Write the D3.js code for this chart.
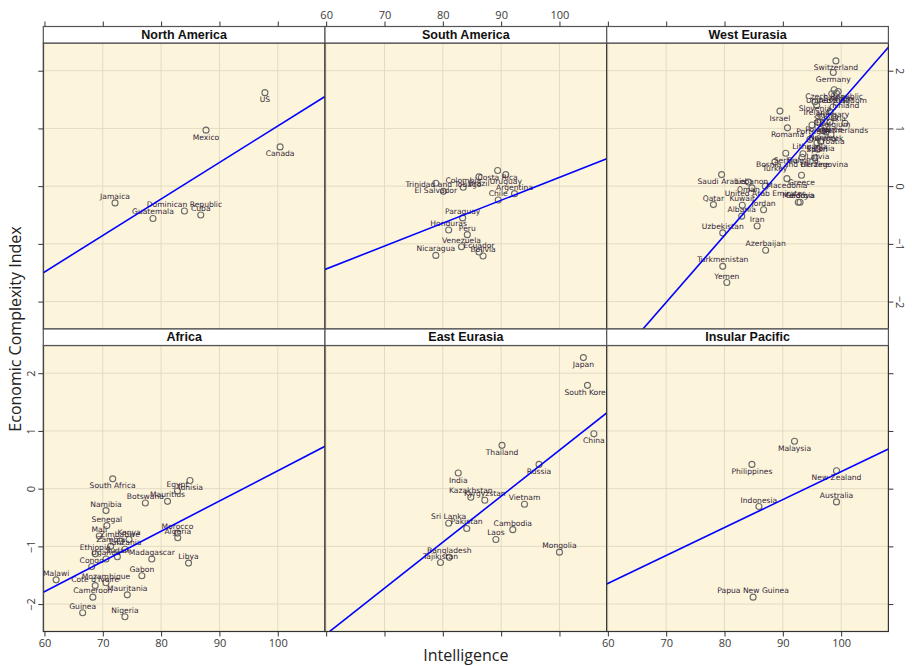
<!DOCTYPE html>
<html>
<head>
<meta charset="utf-8">
<script src="https://cdn.jsdelivr.net/npm/d3@7"></script>
<style>
  body { margin: 0; background: #fff; }
</style>
</head>
<body>
<div id="root"></div>
<script>
// DATA
let regions = ['North America', 'South America', 'West Eurasia', 'Africa', 'East Eurasia', 'Insular Pacific'];
let xTicks = [60, 70, 80, 90, 100];
let yTicks = [-2, -1, 0, 1, 2];

let naCountries = ['US', 'Mexico', 'Canada', 'Jamaica', 'Dominican Republic', 'Cuba', 'Guatemala'];
let naIQ = [97.8, 87.7, 100.4, 72.1, 84.0, 86.8, 78.6];
let naECI = [1.62, 0.97, 0.68, -0.29, -0.43, -0.50, -0.56];

let saCountries = ['Costa Rica', 'Uruguay', 'Brazil', 'Colombia', 'Trinidad and Tobago', 'El Salvador', 'Argentina', 'Chile',
  'Paraguay', 'Honduras', 'Peru', 'Venezuela', 'Ecuador', 'Bolivia', 'Nicaragua'];
let saIQ = [89.4, 90.8, 86.2, 83.5, 80.1, 78.8, 92.3, 89.5, 83.4, 81.0, 84.2, 83.2, 86.2, 86.9, 78.8];
let saECI = [0.27, 0.20, 0.16, -0.02, -0.09, 0.05, -0.13, -0.24, -0.55, -0.76, -0.84, -1.05, -1.14, -1.21, -1.20];

let weCountries = ['Switzerland', 'Germany', 'Czech Republic', 'United Kingdom', 'Sweden', 'Austria', 'Finland', 'Slovenia',
  'Ireland', 'Israel', 'Hungary', 'Slovakia', 'Italy', 'Belgium', 'Poland', 'Portugal', 'France', 'Netherlands', 'Romania',
  'Norway', 'Denmark', 'Croatia', 'Lithuania', 'Estonia', 'Spain', 'Latvia', 'Serbia', 'Bulgaria', 'Bosnia and Herzegovina',
  'Ukraine', 'Turkey', 'Greece', 'Saudi Arabia', 'Macedonia', 'Lebanon', 'Oman', 'United Arab Emirates', 'Moldova', 'Georgia',
  'Qatar', 'Kuwait', 'Jordan', 'Albania', 'Iran', 'Uzbekistan', 'Azerbaijan', 'Turkmenistan', 'Yemen'];
let weIQ = [99.1, 98.65, 98.8, 99.2, 99.5, 98.4, 100.8, 95.5,
  95.8, 89.5, 98.6, 98.1, 96.7, 98.9, 96.0, 95.0, 98.1, 100.65, 90.8,
  96.9, 97.4, 98.25, 94.65, 96.5, 95.85, 96.0, 90.5, 93.45, 93.3,
  95.5, 88.65, 93.2, 79.5, 90.7, 84.7, 84.1, 87.0, 92.65, 92.95,
  78.1, 83.05, 86.7, 82.95, 85.6, 79.7, 87.05, 79.7, 80.4];
let weECI = [2.17, 1.97, 1.67, 1.61, 1.64, 1.60, 1.51, 1.46,
  1.40, 1.30, 1.37, 1.29, 1.20, 1.19, 1.11, 1.06, 1.11, 1.09, 1.01,
  0.96, 0.94, 0.89, 0.81, 0.77, 0.75, 0.64, 0.57, 0.56, 0.50,
  0.49, 0.42, 0.19, 0.20, 0.13, -0.03, 0.07, 0.00, -0.28, -0.28,
  -0.32, -0.33, -0.41, -0.52, -0.69, -0.81, -1.11, -1.39, -1.67];

let afCountries = ['South Africa', 'Tunisia', 'Egypt', 'Mauritius', 'Botswana', 'Namibia', 'Senegal', 'Mali', 'Morocco', 'Algeria',
  'Zambia', 'Zimbabwe', 'Kenya', 'Tanzania', 'Ethiopia', 'Uganda', 'Sudan', 'Madagascar', 'Libya', 'Congo', 'Gabon', 'Malawi',
  'Mozambique', "Cote d'Ivoire", 'Cameroon', 'Mauritania', 'Guinea', 'Nigeria'];
let afIQ = [71.7, 84.95, 82.8, 81.1, 77.3, 70.55, 70.7, 69.4, 82.8, 82.85,
  71.35, 72.95, 74.5, 73.8, 68.7, 70.55, 72.5, 78.4, 84.7, 68.1, 76.7, 62.0,
  70.55, 68.7, 68.3, 74.2, 66.55, 73.8];
let afECI = [0.17, 0.14, -0.04, -0.22, -0.25, -0.38, -0.64, -0.82, -0.77, -0.85,
  -1.00, -0.91, -0.88, -1.05, -1.13, -1.22, -1.18, -1.22, -1.29, -1.35, -1.51, -1.58,
  -1.63, -1.68, -1.88, -1.84, -2.15, -2.22];

let eeCountries = ['Japan', 'South Korea', 'China', 'Thailand', 'Russia', 'India', 'Kazakhstan', 'Kyrgyzstan', 'Vietnam',
  'Sri Lanka', 'Pakistan', 'Cambodia', 'Laos', 'Mongolia', 'Bangladesh', 'Tajikistan'];
let eeIQ = [104.1, 104.8, 105.9, 90.15, 96.5, 82.65, 84.8, 87.2, 94.0, 81.0, 84.1, 92.0, 89.1, 100.0, 81.1, 79.6];
let eeECI = [2.27, 1.79, 0.95, 0.75, 0.42, 0.27, -0.15, -0.20, -0.27, -0.60, -0.69, -0.71, -0.88, -1.10, -1.19, -1.28];

let ipCountries = ['Malaysia', 'Philippines', 'New Zealand', 'Australia', 'Indonesia', 'Papua New Guinea'];
let ipIQ = [92.0, 84.7, 99.2, 99.2, 85.9, 84.9];
let ipECI = [0.82, 0.42, 0.31, -0.23, -0.31, -1.88];

// fitted lines per region: ECI = intercept + slope * IQ
let fitIntercept = [-5.279, -3.817, -10.133, -4.930, -7.304, -4.549];
let fitSlope = [0.0632, 0.0397, 0.1160, 0.0524, 0.0797, 0.04845];

// labels printed under their point (the rest sit above)
let labelsBelow = new Set(['US', 'Mexico', 'Canada', 'Costa Rica', 'Uruguay', 'Brazil', 'El Salvador',
  'Switzerland', 'Germany', 'Czech Republic', 'United Kingdom', 'Sweden', 'Austria', 'Finland', 'Slovenia', 'Ireland',
  'Israel', 'Hungary', 'Slovakia', 'Italy', 'Belgium', 'Poland', 'Portugal', 'France', 'Netherlands', 'Romania', 'Norway',
  'Denmark', 'Croatia', 'Lithuania', 'Estonia', 'Spain', 'Latvia', 'Serbia', 'Bulgaria', 'Bosnia and Herzegovina', 'Ukraine',
  'Turkey', 'Greece', 'Saudi Arabia', 'Macedonia', 'Oman', 'United Arab Emirates',
  'South Africa', 'Tunisia', 'Japan', 'South Korea', 'China', 'Thailand', 'Russia', 'India',
  'Malaysia', 'Philippines', 'New Zealand']);

let regionData = [
  [naCountries, naIQ, naECI],
  [saCountries, saIQ, saECI],
  [weCountries, weIQ, weECI],
  [afCountries, afIQ, afECI],
  [eeCountries, eeIQ, eeECI],
  [ipCountries, ipIQ, ipECI]
].map(([c, iq, eci]) => c.map((name, i) => ({ name: name, iq: iq[i], eci: eci[i] })));

// DIMENSIONS
let width = 912, height = 666;
let colLeft = [43.3, 325, 606.7], panelW = 281.7;
let rowTop = [26.5, 329], stripH = 16.5, plotH = 286;

let xScale = d3.scaleLinear().domain([59.8, 108.1]).range([0, panelW]);
let yScale = d3.scaleLinear().domain([-2.475, 2.48]).range([plotH, 0]);

let svg = d3.select('#root')
  .append('svg')
  .attr('width', width)
  .attr('height', height)
  .style('background-color', '#fff');

let defs = svg.append('defs');

regions.forEach((region, i) => {
  let col = i % 3, row = Math.floor(i / 3);
  let g = svg.append('g')
    .attr('transform', `translate(${colLeft[col]}, ${rowTop[row] + stripH})`);

  defs.append('clipPath').attr('id', 'clip' + i)
    .append('rect').attr('width', panelW).attr('height', plotH);

  // panel background
  g.append('rect')
    .attr('width', panelW)
    .attr('height', plotH)
    .attr('fill', '#fcf5db');

  // grid
  g.append('g').selectAll('line.vx')
    .data(xTicks).enter().append('line')
    .attr('x1', d => xScale(d)).attr('x2', d => xScale(d))
    .attr('y1', 0).attr('y2', plotH)
    .attr('stroke', '#e3dcc4').attr('stroke-width', 1);
  g.append('g').selectAll('line.hy')
    .data(yTicks).enter().append('line')
    .attr('x1', 0).attr('x2', panelW)
    .attr('y1', d => yScale(d)).attr('y2', d => yScale(d))
    .attr('stroke', '#e3dcc4').attr('stroke-width', 1);

  let inner = g.append('g').attr('clip-path', `url(#clip${i})`);
  let pts = regionData[i];

  inner.selectAll('circle')
    .data(pts).enter().append('circle')
    .attr('cx', d => xScale(d.iq))
    .attr('cy', d => yScale(d.eci))
    .attr('r', 3)
    .attr('fill', 'none')
    .attr('stroke', '#6a6a6a')
    .attr('stroke-width', 1.1);

  inner.selectAll('text')
    .data(pts).enter().append('text')
    .attr('x', d => xScale(d.iq))
    .attr('y', d => yScale(d.eci) + (labelsBelow.has(d.name) ? 7 : -6.5))
    .attr('text-anchor', 'middle')
    .attr('dominant-baseline', 'central')
    .style('font-family', '"DejaVu Sans", Verdana, sans-serif')
    .style('font-size', '7.6px')
    .style('fill', '#33253a')
    .text(d => d.name);

  // fitted line
  let line = d3.line().x(d => xScale(d)).y(d => yScale(fitIntercept[i] + fitSlope[i] * d));
  inner.append('path')
    .attr('d', line(xScale.domain()))
    .attr('fill', 'none')
    .attr('stroke', '#0000ff')
    .attr('stroke-width', 1.6);

  // frame
  g.append('rect')
    .attr('width', panelW)
    .attr('height', plotH)
    .attr('fill', 'none')
    .attr('stroke', '#333')
    .attr('stroke-width', 1.2);

  // strip
  g.append('rect')
    .attr('y', -stripH)
    .attr('width', panelW)
    .attr('height', stripH)
    .attr('fill', '#fff')
    .attr('stroke', '#555')
    .attr('stroke-width', 1.2);
  g.append('text')
    .attr('x', panelW / 2)
    .attr('y', -stripH / 2)
    .attr('text-anchor', 'middle')
    .attr('dominant-baseline', 'central')
    .style('font-family', '"Liberation Sans", Arial, sans-serif')
    .style('font-weight', 'bold')
    .style('font-size', '12.5px')
    .style('fill', '#111')
    .text(region);

  // axes
  let fmt = d3.format('d');
  if (row === 0) {
    let ax = g.append('g').attr('transform', `translate(0, ${-stripH})`)
      .call(d3.axisTop(xScale).tickValues(xTicks).tickSize(5).tickFormat(col === 1 ? fmt : ''));
    ax.select('.domain').remove();
  } else {
    let ax = g.append('g').attr('transform', `translate(0, ${plotH})`)
      .call(d3.axisBottom(xScale).tickValues(xTicks).tickSize(5).tickFormat(col !== 1 ? fmt : ''));
    ax.select('.domain').remove();
  }
  if (col === 0) {
    let ax = g.append('g')
      .call(d3.axisLeft(yScale).tickValues(yTicks).tickSize(5).tickFormat(row === 1 ? fmt : ''));
    ax.select('.domain').remove();
    ax.selectAll('text')
      .attr('transform', 'rotate(-90)')
      .attr('x', 0).attr('y', -8).attr('dy', 0)
      .attr('text-anchor', 'middle');
  }
  if (col === 2) {
    let ax = g.append('g').attr('transform', `translate(${panelW}, 0)`)
      .call(d3.axisRight(yScale).tickValues(yTicks).tickSize(5).tickFormat(row === 0 ? fmt : ''));
    ax.select('.domain').remove();
    ax.selectAll('text')
      .attr('transform', 'rotate(90)')
      .attr('x', 0).attr('y', -8).attr('dy', 0)
      .attr('text-anchor', 'middle');
  }
});

svg.selectAll('.tick line').attr('stroke', '#333');
svg.selectAll('.tick text')
  .style('font-family', '"Open Sans", sans-serif')
  .style('font-size', '11px')
  .style('fill', '#3a3a3a');

// axis titles
svg.append('text')
  .attr('x', (colLeft[0] + colLeft[2] + panelW) / 2)
  .attr('y', 655)
  .attr('text-anchor', 'middle')
  .attr('dominant-baseline', 'central')
  .style('font-family', '"Open Sans", sans-serif')
  .style('font-size', '16px')
  .style('fill', '#222')
  .text('Intelligence');

svg.append('text')
  .attr('transform', `translate(15, ${(rowTop[0] + rowTop[1] + stripH + plotH) / 2}) rotate(-90)`)
  .attr('text-anchor', 'middle')
  .attr('dominant-baseline', 'central')
  .style('font-family', '"Open Sans", sans-serif')
  .style('font-size', '16px')
  .style('fill', '#222')
  .text('Economic Complexity Index');
</script>
</body>
</html>
